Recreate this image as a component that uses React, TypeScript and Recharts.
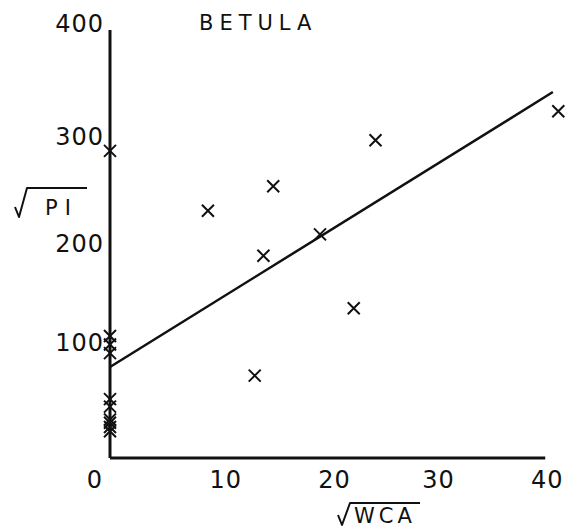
import React from 'react';
import {
  ComposedChart, Scatter, XAxis, YAxis, ReferenceLine, Customized,
} from 'recharts';

// sqrt(WCA) vs sqrt(PI) for Betula
const wca = [0, 0, 0, 0, 0, 0, 0, 0, 0, 0, 9.0, 13.3, 14.1, 15.0, 19.3, 22.4, 24.4, 41.2];
const pi = [287, 114, 106, 98, 55, 48, 36, 33, 29, 25, 231, 77, 189, 254, 209, 140, 297, 324];

// fitted line, end points
const fitWca = [0, 40.7];
const fitPi = [85, 342];

const xTicks = [0, 10, 20, 30, 40];
const yTicks = [100, 200, 300, 400];

const points = wca.map((x, i) => ({ x, y: pi[i] }));
const fit = fitWca.map((x, i) => ({ x, y: fitPi[i] }));

const FONT = '"DejaVu Sans", sans-serif';
const INK = '#111';

// hand-lettered labels sit a bit off their ticks
const xShift: Record<number, number> = { 0: -15, 10: 7, 20: 7, 30: 2, 40: 2 };
const yShift: Record<number, number> = { 100: -9, 200: -1, 300: -1, 400: -7 };

function XTick({ x, y, payload }: any) {
  return (
    <text x={x + (xShift[payload.value] ?? 0)} y={y} dy="0.75em" textAnchor="middle"
      fontFamily={FONT} fontSize={24} fill={INK} letterSpacing={1}>
      {payload.value}
    </text>
  );
}

function YTick({ x, y, payload }: any) {
  return (
    <text x={x} y={y + (yShift[payload.value] ?? 0)} dy="0.36em" textAnchor="end"
      fontFamily={FONT} fontSize={24} fill={INK} letterSpacing={1}>
      {payload.value}
    </text>
  );
}

function Cross({ cx, cy }: any) {
  const s = 6;
  return (
    <path d={`M${cx - s},${cy - s}L${cx + s},${cy + s}M${cx + s},${cy - s}L${cx - s},${cy + s}`}
      stroke={INK} strokeWidth={2} fill="none" />
  );
}

// square-root sign drawn as a stroke, with the axis name as text under the bar
function Radical({ x, y, rise, w, text, dx, spacing }: any) {
  return (
    <g>
      <path d={`M${x},${y - 8}L${x + 4},${y + 2}L${x + 12},${y - rise}L${x + 12 + w},${y - rise}`}
        stroke={INK} strokeWidth={2} fill="none" strokeLinejoin="round" />
      <text x={x + dx} y={y} fontFamily={FONT} fontSize={21} fill={INK} letterSpacing={spacing}>{text}</text>
    </g>
  );
}

function Titles() {
  return (
    <g>
      <text x={199} y={30} fontFamily={FONT} fontSize={21} fill={INK} letterSpacing={6}>BETULA</text>
      <Radical x={338} y={523} rise={20} w={70} text="WCA" dx={16} spacing={4} />
      <Radical x={15} y={215} rise={27} w={60} text="PI" dx={30} spacing={7} />
    </g>
  );
}

export default function App() {
  return (
    <div style={{ position: 'absolute', left: 0, top: 0, background: '#fff' }}>
      <ComposedChart width={579} height={528} margin={{ top: 30, right: 12, bottom: 0, left: 0 }}>
        <XAxis
          type="number"
          dataKey="x"
          domain={[0, 42]}
          ticks={xTicks}
          axisLine={false}
          tickLine={false}
          tickSize={0}
          tickMargin={12}
          height={70}
          tick={<XTick />}
        />
        <YAxis
          type="number"
          dataKey="y"
          domain={[0, 400]}
          ticks={yTicks}
          width={110}
          axisLine={{ stroke: INK, strokeWidth: 3 }}
          tickLine={false}
          tickSize={0}
          tickMargin={6}
          tick={<YTick />}
        />
        <ReferenceLine
          segment={[{ x: 0, y: 0 }, { x: 40, y: 0 }]}
          stroke={INK}
          strokeWidth={3}
        />
        <Scatter
          data={fit}
          line={{ stroke: INK, strokeWidth: 2.5 }}
          shape={() => <g />}
          isAnimationActive={false}
        />
        <Scatter data={points} shape={<Cross />} isAnimationActive={false} />
        <Customized component={Titles} />
      </ComposedChart>
    </div>
  );
}
